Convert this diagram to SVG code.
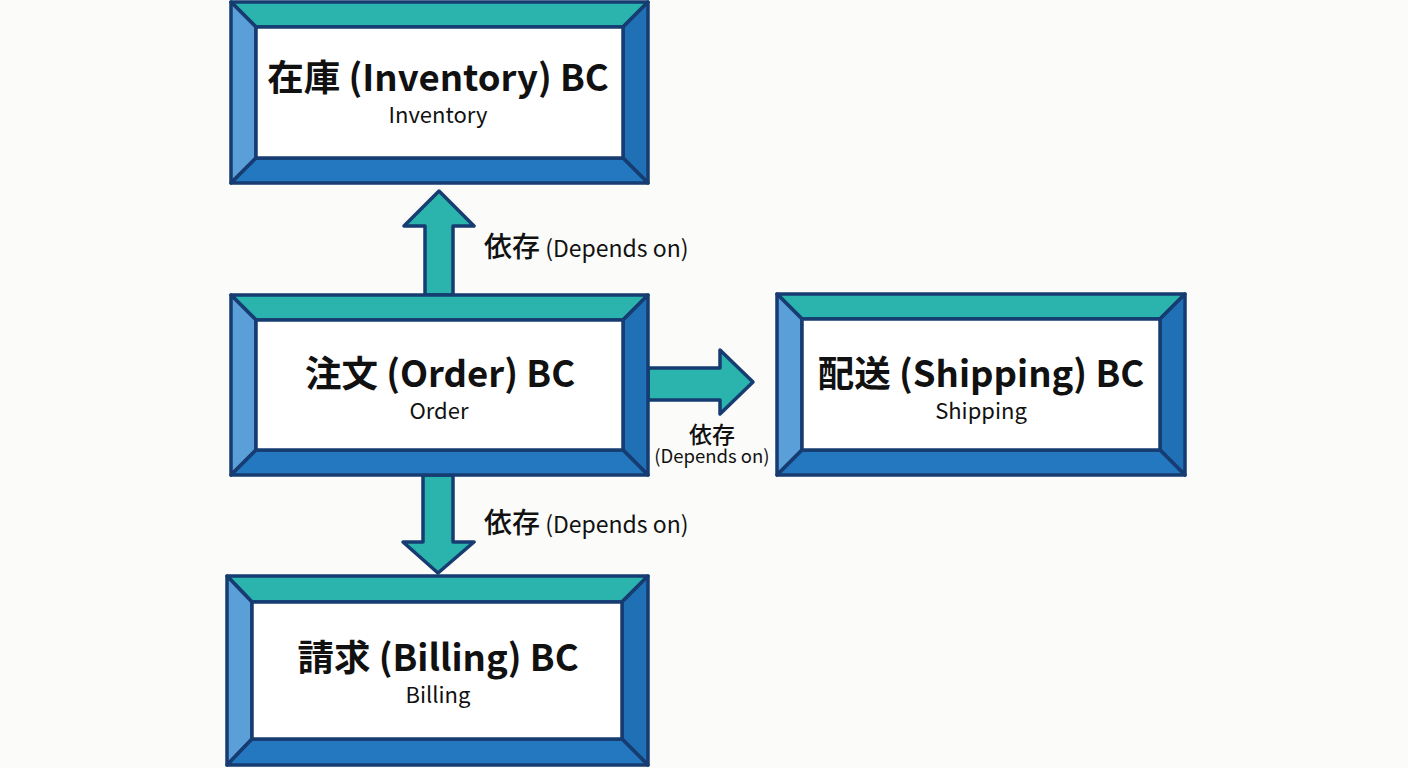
<svg xmlns="http://www.w3.org/2000/svg" width="1408" height="768" viewBox="0 0 1408 768">
<style>
.t{font-family:"Noto Sans CJK JP","Noto Sans",sans-serif;font-weight:700;font-size:36.5px;fill:#111;text-anchor:middle}
.s{font-family:"Noto Sans CJK JP","Noto Sans",sans-serif;font-weight:400;font-size:22px;fill:#111;text-anchor:middle}
.l{font-family:"Noto Sans CJK JP","Noto Sans",sans-serif;font-size:23px;fill:#111}
.lc{font-family:"Noto Sans CJK JP","Noto Sans",sans-serif;font-size:28px;font-weight:500;fill:#111}
.bt{fill:#2bb3ad}.bl{fill:#5b9fd8}.br{fill:#1f70b5}.bb{fill:#2378c0}
.e{stroke:#163c72;stroke-width:3.5;stroke-linejoin:round}
.in{fill:#fff;stroke:#163c72;stroke-width:3.5}
.ar{fill:#2bb3ad;stroke:#163c72;stroke-width:3.5;stroke-linejoin:round}
</style>
<rect width="1408" height="768" fill="#fbfbf9"/>
<g id="connectors">
<polygon class="ar" points="425,295 425,226 404,226 439,191 474,226 453,226 453,295"/>
<polygon class="ar" points="423,475 423,542 403,542 438,573 474,542 453,542 453,475"/>
<polygon class="ar" points="648,368 720,368 720,350 753,382 720,414 720,400 648,400"/>
<text class="l" x="484" y="257"><tspan class="lc">依存</tspan> (Depends on)</text>
<text class="l" x="484" y="533"><tspan class="lc">依存</tspan> (Depends on)</text>
<text class="lc" x="712" y="443" style="text-anchor:middle;font-size:23px">依存</text>
<text class="l" x="712" y="463" style="text-anchor:middle;font-size:18.5px">(Depends on)</text>
</g>
<g id="inventory">
<polygon class="bt e" points="231,2 648,2 623,27 256,27"/>
<polygon class="bl e" points="231,2 256,27 256,158 231,183"/>
<polygon class="br e" points="648,2 648,183 623,158 623,27"/>
<polygon class="bb e" points="231,183 256,158 623,158 648,183"/>
<rect class="in" x="256" y="27" width="367" height="131"/>
<text class="t" x="438" y="91">在庫 (Inventory) BC</text>
<text class="s" x="438" y="123">Inventory</text>
</g>
<g id="order">
<polygon class="bt e" points="231,295 648,295 623,320 256,320"/>
<polygon class="bl e" points="231,295 256,320 256,450 231,475"/>
<polygon class="br e" points="648,295 648,475 623,450 623,320"/>
<polygon class="bb e" points="231,475 256,450 623,450 648,475"/>
<rect class="in" x="256" y="320" width="367" height="130"/>
<text class="t" x="440" y="387">注文 (Order) BC</text>
<text class="s" x="439" y="419">Order</text>
</g>
<g id="shipping">
<polygon class="bt e" points="777,294 1185,294 1160,319 802,319"/>
<polygon class="bl e" points="777,294 802,319 802,450 777,475"/>
<polygon class="br e" points="1185,294 1185,475 1160,450 1160,319"/>
<polygon class="bb e" points="777,475 802,450 1160,450 1185,475"/>
<rect class="in" x="802" y="319" width="358" height="131"/>
<text class="t" x="981" y="387">配送 (Shipping) BC</text>
<text class="s" x="981" y="419">Shipping</text>
</g>
<g id="billing">
<polygon class="bt e" points="227,576 648,576 622,602 252,602"/>
<polygon class="bl e" points="227,576 252,602 252,739 227,765"/>
<polygon class="br e" points="648,576 648,765 622,739 622,602"/>
<polygon class="bb e" points="227,765 252,739 622,739 648,765"/>
<rect class="in" x="252" y="602" width="370" height="137"/>
<text class="t" x="438" y="671">請求 (Billing) BC</text>
<text class="s" x="438" y="703">Billing</text>
</g>
</svg>
